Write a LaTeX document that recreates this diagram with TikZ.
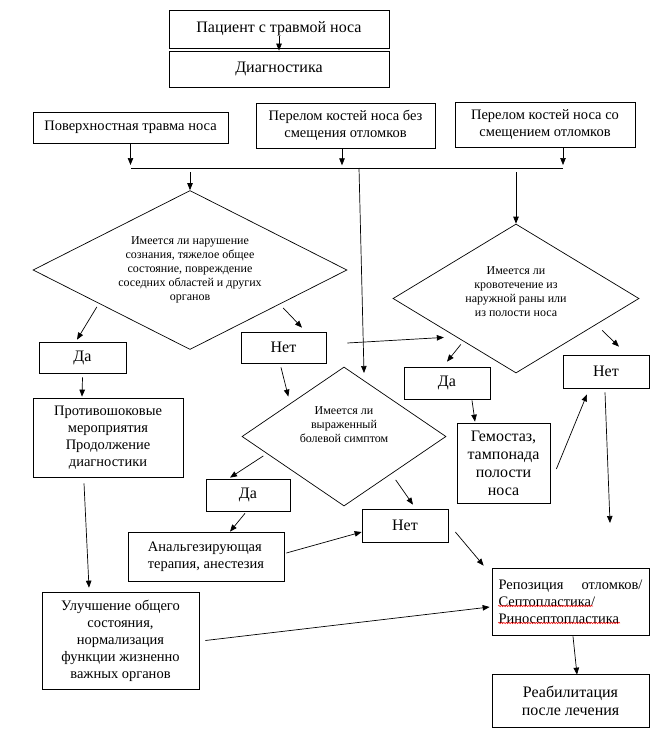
\documentclass[tikz,border=0pt]{standalone}
\usepackage{fontspec}
\setmainfont{Liberation Serif}
\usetikzlibrary{arrows.meta,shapes.geometric,decorations.pathmorphing}

\begin{document}
\begin{tikzpicture}[x=1pt, y=-1pt,
  box/.style={draw, line width=0.7pt, inner sep=1pt, align=center, font=\fontsize{14.5}{17}\selectfont},
  bigbox/.style={box, font=\fontsize{16}{18}\selectfont},
  quest/.style={draw, diamond, line width=0.7pt, inner sep=0pt, align=center, font=\fontsize{12}{14}\selectfont},
  arr/.style={-{Triangle[length=7pt, width=5.5pt]}, line width=0.7pt},
  spell/.style={red, line width=0.5pt, decorate, decoration={snake, amplitude=0.7pt, segment length=2.5pt}}]
  \useasboundingbox (0,0) rectangle (657,741);

  % Start
  \node[bigbox, minimum width=220pt, minimum height=38pt] (pat) at (279,29) {Пациент с травмой носа};
  \node[bigbox, minimum width=220pt, minimum height=36pt] (diag) at (279,69) {Диагностика};

  % Kinds of injury
  \node[box, minimum width=195pt, minimum height=31pt] (surf) at (130.5,127.5) {Поверхностная травма носа};
  \node[box, minimum width=179pt, minimum height=45pt] (frac1) at (345.5,125.5) {Перелом костей носа без\\смещения отломков};
  \node[box, minimum width=180pt, minimum height=45pt] (frac2) at (545,124.5) {Перелом костей носа со\\смещением отломков};

  % Questions
  \node[quest, aspect=2, minimum width=314pt, minimum height=159pt] (q1) at (190,270)
    {Имеется ли нарушение\\сознания, тяжелое общее\\состояние, повреждение\\соседних областей и других\\органов};
  \node[quest, aspect=1.65, minimum width=246pt, minimum height=149pt] (q2) at (516,298.5)
    {Имеется ли\\кровотечение из\\наружной раны или\\из полости носа\\[-1pt]\mbox{}};
  \node[quest, aspect=1.47, minimum width=204pt, minimum height=139pt] (q3) at (344,436.5)
    {Имеется ли\\выраженный\\болевой симптом\\[9pt]\mbox{}};

  % Answers
  \node[bigbox, minimum width=87pt, minimum height=31pt] (yes1) at (82.5,357.5) {Да};
  \node[bigbox, minimum width=85pt, minimum height=31pt] (no1) at (283.5,347.5) {Нет};
  \node[bigbox, minimum width=86pt, minimum height=32pt] (yes2) at (447,383) {Да};
  \node[bigbox, minimum width=86pt, minimum height=33pt] (no2) at (606,371.5) {Нет};
  \node[bigbox, minimum width=84pt, minimum height=32pt] (yes3) at (248,495) {Да};
  \node[bigbox, minimum width=86pt, minimum height=33pt] (no3) at (405,525.5) {Нет};

  % Actions
  \node[box, minimum width=150pt, minimum height=79pt] (shock) at (108,437.5)
    {Противошоковые\\мероприятия\\Продолжение\\диагностики};
  \node[bigbox, minimum width=93pt, minimum height=80pt] (hemo) at (503.5,463)
    {Гемостаз,\\тампонада\\полости\\носа};
  \node[box, align=left, minimum width=156pt, minimum height=49pt] (analg) at (206,556.5)
    {Анальгезирующая\\терапия, анестезия};
  \node[box, minimum width=157pt, minimum height=97pt] (improve) at (120.5,640.5)
    {Улучшение общего\\состояния,\\нормализация\\функции жизненно\\важных органов};
  \node[box, align=left, text width=144pt, minimum width=157pt, minimum height=67pt] (repos) at (570.5,601.5)
    {Репозиция\hfill отломков/\\Септопластика/\\Риносептопластика};
  \node[bigbox, minimum width=157pt, minimum height=53pt] (rehab) at (570.5,700.5)
    {Реабилитация\\после лечения};

  % Bus line
  \coordinate (busL) at (131,168);
  \coordinate (busR) at (563,168);
  \coordinate (busA) at (359,168);
  \coordinate (busTip) at (0,165);
  \coordinate (busDrop) at (0,172);
  \coordinate (q3in) at (364,373);
  \coordinate (reposin) at (610,523);
  \draw[line width=0.7pt] (busL) -- (busR);

  % Arrows
  \draw[arr] ([yshift=12pt]pat.south) -- (diag.north);
  \draw[arr] (surf.south) -- (surf.south |- busTip);
  \draw[arr] ([xshift=-3.5pt]frac1.south) -- ++(0,17);
  \draw[arr] (frac2.south -| busR) -- (busR |- busTip);
  \draw[arr] (q1.north |- busDrop) -- (q1.north);
  \draw[arr] (q2.north |- busDrop) -- (q2.north);
  \draw[arr] (busA) -- (q3in);

  \draw[arr] ([xshift=-14.5pt, yshift=3pt]q1.south west) -- ([xshift=-5.5pt, yshift=2pt]yes1.north);
  \draw[arr] ([xshift=14.5pt, yshift=2pt]q1.south east) -- ([xshift=18.5pt, yshift=4pt]no1.north);
  \draw[arr] ([yshift=-4pt]yes1.south) -- ([xshift=-26pt, yshift=1pt]shock.north);
  \draw[arr] ([xshift=-24pt, yshift=-6pt]shock.south) -- ([xshift=-31.5pt, yshift=4pt]improve.north);

  \draw[arr] ([xshift=21pt, yshift=4.5pt]no1.east) -- ([xshift=-10.5pt, yshift=-1.5pt]q2.south west);
  \draw[arr] ([xshift=-2.5pt, yshift=-4pt]no1.south) -- ([xshift=-4.5pt, yshift=5pt]q3.north west);

  \draw[arr] ([xshift=6.5pt, yshift=-8.5pt]q2.south west) -- ([yshift=5pt]yes2.north);
  \draw[arr] ([xshift=24.5pt, yshift=5.5pt]q2.south east) -- ([xshift=13pt, yshift=8pt]no2.north);
  \draw[arr] ([xshift=25pt, yshift=-1pt]yes2.south) -- ([xshift=-28.5pt, yshift=1pt]hemo.north);
  \draw[arr] ([xshift=6pt, yshift=-6pt]hemo.east) -- ([xshift=-19pt, yshift=-6pt]no2.south);
  \draw[arr] ([xshift=-1pt, yshift=-4pt]no2.south) -- (reposin);

  \draw[arr] ([xshift=-29.5pt, yshift=15.5pt]q3.south west) -- ([xshift=-18pt, yshift=1pt]yes3.north);
  \draw[arr] ([xshift=0.5pt, yshift=-8.5pt]q3.south east) -- ([xshift=8pt, yshift=4pt]no3.north);
  \draw[arr] ([xshift=-3pt, yshift=-2pt]yes3.south) -- ([xshift=24pt]analg.north);
  \draw[arr] ([xshift=2pt, yshift=3.5pt]analg.east) -- ([yshift=-6.5pt]no3.west);
  \draw[arr] ([xshift=7pt, yshift=-6.5pt]no3.east) -- ([xshift=-8pt, yshift=2pt]repos.north west);
  \draw[arr] ([xshift=6pt]improve.east) -- ([xshift=-2pt, yshift=-5.5pt]repos.west);
  \draw[arr] ([xshift=2.5pt, yshift=-1pt]repos.south) -- ([xshift=6.5pt, yshift=-1pt]rehab.north);

  % Spelling marks
  \draw[spell] ([xshift=6.5pt, yshift=-4.5pt]repos.west) -- ++(95,0);
  \draw[spell] ([xshift=6.5pt, yshift=-21.5pt]repos.west) -- ++(122,0);
\end{tikzpicture}
\end{document}
